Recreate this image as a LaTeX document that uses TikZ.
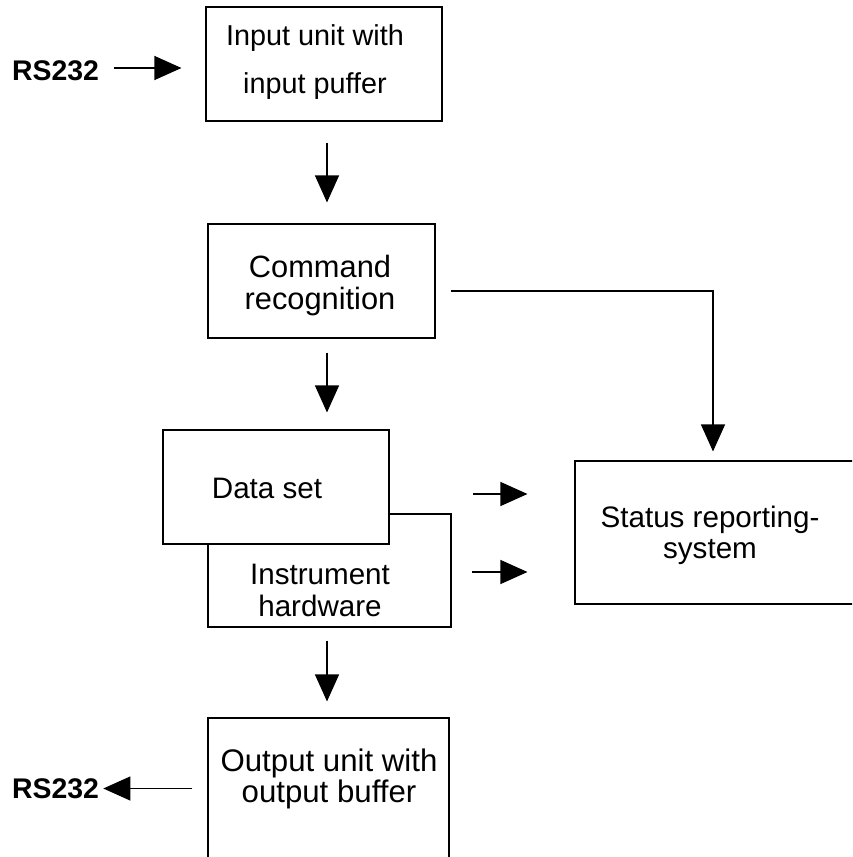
\documentclass[tikz,border=0pt]{standalone}
\usepackage{fontspec}
\setmainfont{Liberation Sans}
\usetikzlibrary{arrows.meta}
\tikzset{
  unitbox/.style={draw, line width=0.55pt, fill=white, inner sep=0pt},
  arr/.style={line width=0.55pt, -{Triangle[length=13.5pt,width=12pt]}},
  port/.style={font=\bfseries\fontsize{14.2}{16}\selectfont, inner sep=0pt},
  txt/.style={align=center, inner sep=0pt}
}

\begin{document}
\begin{tikzpicture}[x=0.5pt,y=-0.5pt]
\useasboundingbox (0,0) rectangle (852,857);
\clip (0,0) rectangle (852,857);

% Draw the unit boxes
\node[unitbox, minimum width=118pt, minimum height=57pt] (in) at (324,64) {};
\node[unitbox, minimum width=113.5pt, minimum height=57pt] (cmd) at (321.5,281) {};
\node[unitbox, minimum width=121.5pt, minimum height=56.5pt] (hw) at (329.5,570.5) {};
\node[unitbox, minimum width=113pt, minimum height=57pt] (data) at (276,487) {};
\node[unitbox, minimum width=152.5pt, minimum height=71.5pt] (status) at (727.5,532.5) {};
\node[unitbox, minimum width=120.5pt, minimum height=91pt] (out) at (328.5,809) {};

% Box texts
\node[txt, font=\fontsize{14.4}{17}\selectfont] (intxt) at (315,62.5) {Input unit with\\[7pt]input puffer};
\node[txt, font=\fontsize{15.4}{16}\selectfont] (cmdtxt) at (320,286) {Command\\recognition};
\node[txt, font=\fontsize{14.8}{16}\selectfont] (datatxt) at (267,488.5) {Data set};
\node[txt, font=\fontsize{14.8}{16}\selectfont] (hwtxt) at (320,590.5) {Instrument\\hardware};
\node[txt, font=\fontsize{14.8}{15.5}\selectfont] (sttxt) at (710,535.5) {Status reporting-\\system};
\node[txt, font=\fontsize{15.6}{14}\selectfont] (outtxt) at (329,779) {Output unit with\\output buffer};

% Interface labels
\node[port] (rsin) at (55.5,71) {RS232};
\node[port] (rsout) at (55.5,788.5) {RS232};

% Helper points
\coordinate (spine) at (327,0);
\coordinate (tap) at (713,0);
\coordinate (dsout) at (473,494);
\coordinate (hwout) at (472,572);

% Draw the flow
\draw[arr, shorten <=7.5pt, shorten >=12pt] ([yshift=1.5pt]rsin.east) -- ([yshift=1.5pt]rsin.east -| in.west);
\draw[arr, shorten <=10.5pt, shorten >=10.5pt] (spine |- in.south) -- (spine |- cmd.north);
\draw[arr, shorten <=7pt, shorten >=8.5pt] (spine |- cmd.south) -- (spine |- data.north);
\draw[arr, shorten <=6.5pt, shorten >=8pt] (spine |- hw.south) -- (spine |- out.north);
\draw[arr, shorten <=7.5pt, shorten >=2pt] (rsout.east -| out.west) -- (rsout.east);

% Status reporting inputs
\draw[arr, shorten <=7.5pt, shorten >=4.5pt] ([yshift=-5pt]cmd.east) -| (tap |- status.north);
\draw[arr, shorten >=23.5pt] (dsout) -- (dsout -| status.west);
\draw[arr, shorten >=23.5pt] (hwout) -- (hwout -| status.west);
\end{tikzpicture}
\end{document}
